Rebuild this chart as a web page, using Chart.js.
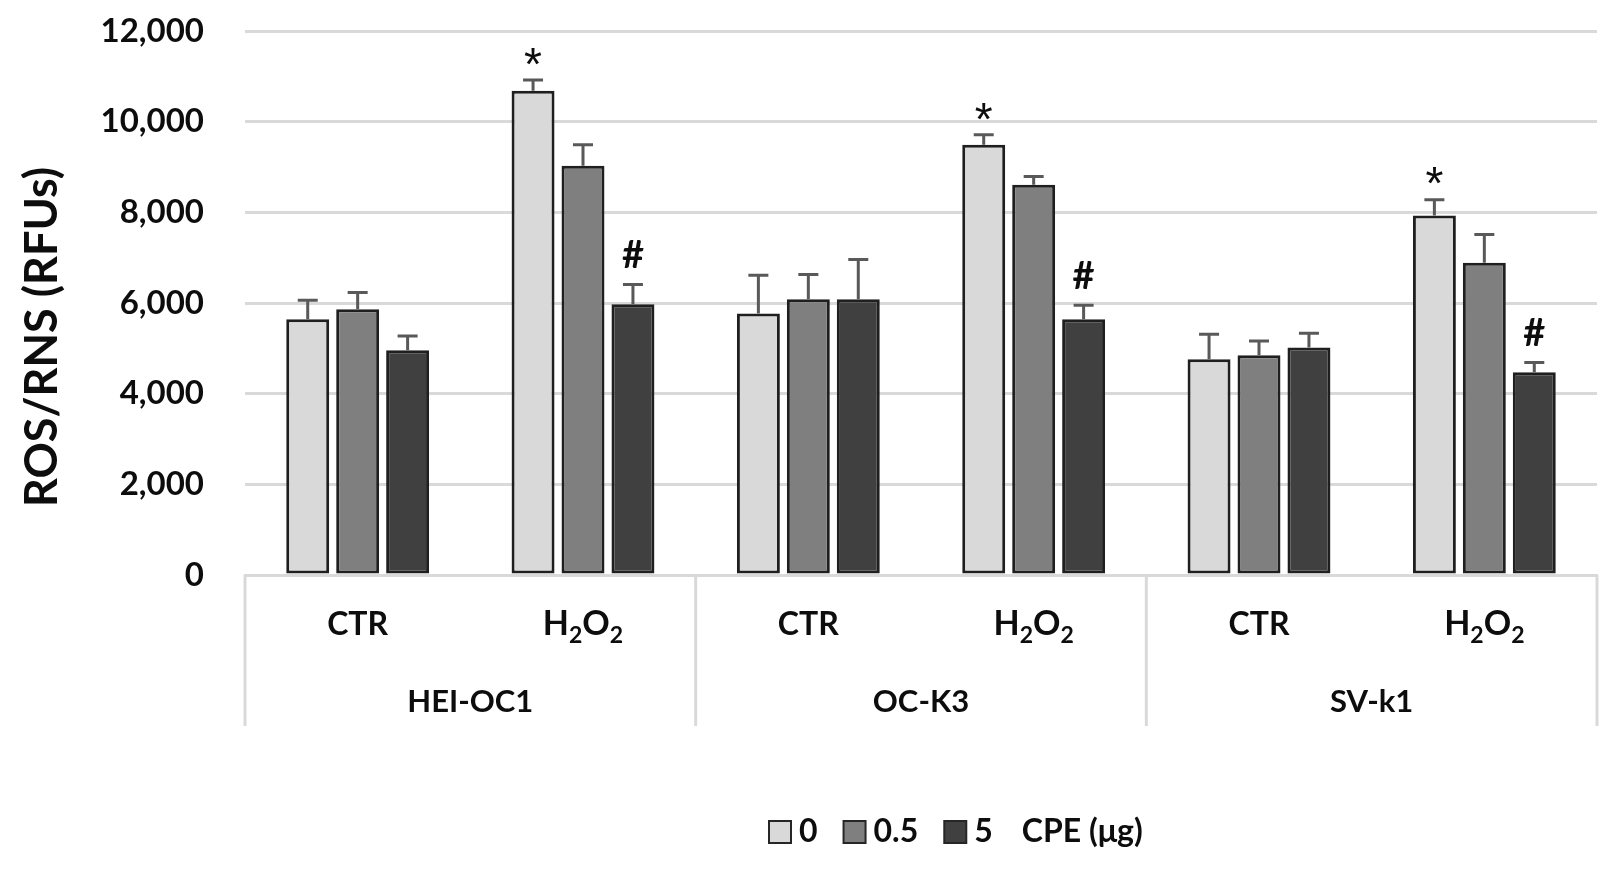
<!DOCTYPE html>
<html lang="en">
<head>
<meta charset="UTF-8">
<title>ROS/RNS (RFUs)</title>
<script src="https://cdn.jsdelivr.net/npm/chart.js"></script>
<style>
  html, body { margin: 0; padding: 0; background: #fff; }
  #wrap { position: relative; width: 1612px; height: 870px; }
</style>
</head>
<body>
<div id="wrap"><canvas id="chart"></canvas></div>
<script>
// Treatments along the x axis, two per cell line
const treatments = ['CTR', 'H2O2', 'CTR', 'H2O2', 'CTR', 'H2O2'];
const cellLines = ['HEI-OC1', 'OC-K3', 'SV-k1'];
const doses = ['0', '0.5', '5'];

// Mean ROS/RNS (RFUs) for each CPE dose, with the upper error (SD)
const cpe0 = [5640, 10680, 5770, 9490, 4760, 7930];
const cpe0Err = [420, 240, 840, 220, 550, 350];
const cpe05 = [5860, 9030, 6080, 8610, 4850, 6890];
const cpe05Err = [370, 460, 550, 180, 310, 620];
const cpe5 = [4960, 5970, 6080, 5640, 5020, 4470];
const cpe5Err = [310, 440, 880, 310, 310, 220];

// Significance marks above the bars
const marks0 = ['', '*', '', '*', '', '*'];
const marks05 = ['', '', '', '', '', ''];
const marks5 = ['', '#', '', '#', '', '#'];

const yMax = 12000;
const yStep = 2000;

const TEXT = '#0d0d0d';
const GRID = '#d9d9d9';
const FONT = 'Lato, "Open Sans", sans-serif';

// Error bars and the * / # marks, drawn on top of the bars
const errorBars = {
  id: 'errorBars',
  afterDatasetsDraw(chart) {
    const ctx = chart.ctx;
    const y = chart.scales.y;
    chart.data.datasets.forEach((ds, i) => {
      const meta = chart.getDatasetMeta(i);
      meta.data.forEach((bar, j) => {
        const top = y.getPixelForValue(ds.data[j] + ds.errors[j]);
        ctx.save();
        ctx.strokeStyle = '#595959';
        ctx.lineWidth = 3;
        ctx.beginPath();
        ctx.moveTo(bar.x, bar.y);
        ctx.lineTo(bar.x, top);
        ctx.moveTo(bar.x - 10, top);
        ctx.lineTo(bar.x + 10, top);
        ctx.stroke();
        const m = ds.marks[j];
        if (m) {
          ctx.fillStyle = TEXT;
          ctx.textAlign = 'center';
          ctx.textBaseline = 'middle';
          if (m === '*') {
            ctx.font = '46px "Liberation Sans", sans-serif';
            ctx.fillText(m, bar.x, top - 13);
          } else {
            ctx.font = 'bold 38px ' + FONT;
            ctx.fillText(m, bar.x, top - 29);
          }
        }
        ctx.restore();
      });
    });
  }
};

// Writes a label with digits as subscripts (H2O2)
function drawFormula(ctx, cx, baseline, text) {
  const big = 'bold 34px ' + FONT;
  const small = 'bold 23px ' + FONT;
  const parts = text.split('').map(ch => ({ ch, sub: /[0-9]/.test(ch) }));
  let total = 0;
  parts.forEach(p => {
    ctx.font = p.sub ? small : big;
    p.w = ctx.measureText(p.ch).width;
    total += p.w;
  });
  let x = cx - total / 2;
  ctx.textAlign = 'left';
  parts.forEach(p => {
    ctx.font = p.sub ? small : big;
    ctx.fillText(p.ch, x, baseline + (p.sub ? 8 : 0));
    x += p.w;
  });
}

// Category labels, cell line groups, y title and legend
const axisLabels = {
  id: 'axisLabels',
  afterDraw(chart) {
    const ctx = chart.ctx;
    const x = chart.scales.x;
    const area = chart.chartArea;
    ctx.save();
    ctx.fillStyle = TEXT;
    ctx.textBaseline = 'alphabetic';

    treatments.forEach((t, i) => {
      const cx = x.getPixelForValue(i);
      if (/[0-9]/.test(t)) {
        drawFormula(ctx, cx, 635, t);
      } else {
        ctx.font = 'bold 32px ' + FONT;
        ctx.textAlign = 'center';
        ctx.fillText(t, cx, 635);
      }
    });

    // separators between cell lines
    const half = (x.getPixelForValue(1) - x.getPixelForValue(0)) / 2;
    ctx.strokeStyle = GRID;
    ctx.lineWidth = 3;
    for (let g = 0; g <= cellLines.length; g++) {
      const bx = g < cellLines.length
        ? x.getPixelForValue(g * 2) - half
        : x.getPixelForValue(g * 2 - 1) + half;
      ctx.beginPath();
      ctx.moveTo(bx, area.bottom);
      ctx.lineTo(bx, 726);
      ctx.stroke();
    }

    ctx.font = 'bold 31px ' + FONT;
    ctx.textAlign = 'center';
    cellLines.forEach((name, g) => {
      const cx = (x.getPixelForValue(g * 2) + x.getPixelForValue(g * 2 + 1)) / 2;
      ctx.fillText(name, cx, 712);
    });

    // legend
    let lx = 769;
    const ly = 832;
    ctx.font = 'bold 32px ' + FONT;
    ctx.textBaseline = 'middle';
    ctx.textAlign = 'left';
    chart.data.datasets.forEach(ds => {
      ctx.fillStyle = ds.backgroundColor;
      ctx.fillRect(lx, ly - 11, 22, 22);
      ctx.strokeStyle = '#262626';
      ctx.lineWidth = 2;
      ctx.strokeRect(lx, ly - 11, 22, 22);
      lx += 30;
      ctx.fillStyle = TEXT;
      ctx.fillText(ds.label, lx, ly);
      lx += ctx.measureText(ds.label).width + 26;
    });
    ctx.fillText('CPE (\u03bcg)', lx + 3, ly);

    // y axis title
    ctx.translate(42, 337);
    ctx.rotate(-Math.PI / 2);
    ctx.font = 'bold 45px ' + FONT;
    ctx.textAlign = 'center';
    ctx.fillText('ROS/RNS (RFUs)', 0, 0);
    ctx.restore();
  }
};

const barStyle = {
  borderColor: '#1f1f1f',
  borderWidth: 3,
  borderSkipped: false,
  categoryPercentage: 0.665,
  barPercentage: 0.86
};

new Chart(document.getElementById('chart'), {
  type: 'bar',
  data: {
    labels: treatments,
    datasets: [
      { label: doses[0], data: cpe0, errors: cpe0Err, marks: marks0, backgroundColor: '#d9d9d9', ...barStyle },
      { label: doses[1], data: cpe05, errors: cpe05Err, marks: marks05, backgroundColor: '#7f7f7f', ...barStyle },
      { label: doses[2], data: cpe5, errors: cpe5Err, marks: marks5, backgroundColor: '#404040', ...barStyle }
    ]
  },
  options: {
    responsive: true,
    maintainAspectRatio: false,
    animation: false,
    layout: { padding: { top: 31, right: 15, left: 0, bottom: 0 } },
    plugins: {
      legend: { display: false },
      tooltip: { enabled: false }
    },
    scales: {
      x: {
        ticks: { display: false },
        grid: { display: false },
        border: { display: true, color: GRID, width: 3 },
        afterFit(scale) { scale.height = 295; }
      },
      y: {
        min: 0,
        max: yMax,
        ticks: {
          stepSize: yStep,
          padding: 41,
          color: TEXT,
          font: { family: FONT, size: 33, weight: 'bold' },
          callback: v => v.toLocaleString('en-US')
        },
        grid: { color: GRID, lineWidth: 3, drawTicks: false },
        border: { display: false },
        afterFit(scale) {
          // tick padding is meant horizontally only
          scale.width = 245;
          scale.paddingTop = 0;
          scale.paddingBottom = 0;
        }
      }
    }
  },
  plugins: [errorBars, axisLabels]
});
</script>
</body>
</html>
